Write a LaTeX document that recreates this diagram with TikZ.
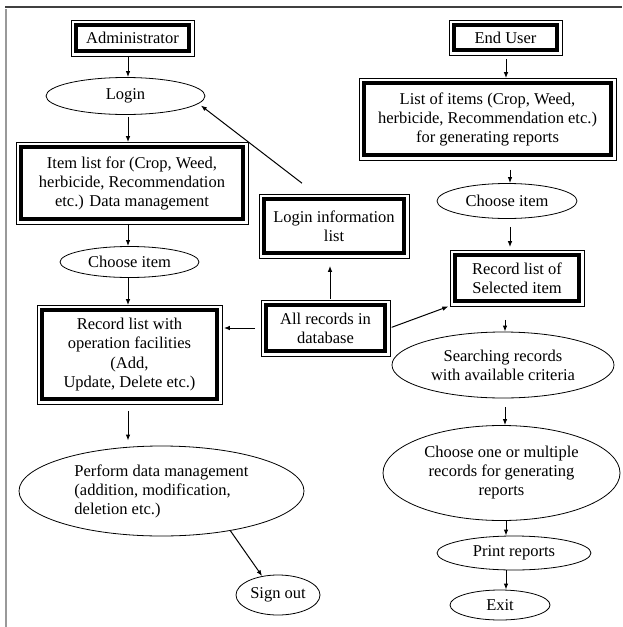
\documentclass[tikz,border=0pt]{standalone}
\usepackage{fontspec}
\setmainfont{Liberation Serif}
\usetikzlibrary{shapes.geometric,arrows.meta}
\begin{document}
\begin{tikzpicture}[x=1pt,y=-1pt,
  every node/.style={font=\fontsize{16.5pt}{19pt}\selectfont, inner sep=0pt, align=center},
  dbox/.style={draw, rectangle, line width=4.2pt, outer sep=4.8pt},
  ell/.style={draw, ellipse, line width=0.8pt},
  arr/.style={-{Latex[length=6pt,width=4.5pt]}, line width=1pt},
  thinframe/.style={line width=0.6pt}
]
\useasboundingbox (0,0) rectangle (622,627);
\draw[line width=1.5pt, black!75] (5,7) -- (622,7);
\draw[line width=2pt, black!40] (6,9) -- (6,627);

% left column
\node[dbox, minimum width=113, minimum height=26] (admin) at (132.5,38) {Administrator};
\node[ell, minimum width=159, minimum height=37] (login) at (125.5,96) {Login};
\node[dbox, minimum width=222, minimum height=72] (itemlist) at (132,183)
  {Item list for (Crop, Weed,\\herbicide, Recommendation\\etc.) Data management};
\node[ell, minimum width=139, minimum height=31] (choose1) at (129.5,262) {Choose item};
\node[dbox, minimum width=175, minimum height=89, font=\fontsize{16.5pt}{19.5pt}\selectfont] (reclist) at (129.5,354.5)
  {Record list with\\operation facilities\\(Add,\\Update, Delete etc.)};
\node[ell, minimum width=285, minimum height=90, align=left] (perform) at (161.5,491)
  {Perform data management\\(addition, modification,\\deletion etc.)};
\node[ell, minimum width=84, minimum height=40] (signout) at (278,595) {Sign out};

% middle
\node[dbox, minimum width=140, minimum height=54] (logininfo) at (334,226) {Login information\\list};
\node[dbox, minimum width=119, minimum height=46] (allrec) at (325.5,328) {All records in\\database};

% right column
\node[dbox, minimum width=103, minimum height=25] (enduser) at (505.5,37.5) {End User};
\node[dbox, minimum width=247, minimum height=72] (listitems) at (487.5,119)
  {List of items (Crop, Weed,\\herbicide, Recommendation etc.)\\for generating reports};
\node[ell, minimum width=140, minimum height=35] (choose2) at (507,201) {Choose item};
\node[dbox, minimum width=124, minimum height=46] (recsel) at (517,278) {Record list of\\Selected item};
\node[ell, minimum width=222, minimum height=66] (search) at (503,365) {Searching records\\with available criteria};
\node[ell, minimum width=237, minimum height=95] (chooseone) at (501.5,473)
  {Choose one or multiple\\records for generating\\reports};
\node[ell, minimum width=154, minimum height=34] (print) at (514,553) {Print reports};
\node[ell, minimum width=100, minimum height=30] (exit) at (500,605) {Exit};

% thin outer frames of the double boxes
\foreach \n in {admin,itemlist,reclist,logininfo,allrec,enduser,listitems,recsel}
  \draw[thinframe] (\n.north west) rectangle (\n.south east);

% helper x positions
\coordinate (xa) at (128,0);
\coordinate (xb) at (330,0);
\coordinate (xc) at (506,0);
\coordinate (xd) at (510,0);
\coordinate (xe) at (505,0);

% left connectors
\draw[arr] (admin.south -| xa) -- (login.north -| xa);
\draw[arr, shorten <=2pt] (login.south -| xa) -- (itemlist.north -| xa);
\draw[arr] (itemlist.south -| xa) -- (choose1.north -| xa);
\draw[arr] (choose1.south -| xa) -- (reclist.north -| xa);
\draw[arr, shorten <=6pt, shorten >=2pt] (allrec.west) -- (reclist.east |- allrec.west);
\draw[arr, shorten <=7pt, shorten >=5pt] (reclist.south -| xa) -- (perform.north -| xa);
\draw[arr] (perform.-30) -- (signout.130);

% middle connectors
\draw[arr, shorten >=3pt] ([shift={(-32pt,11pt)}]logininfo.north) -- (login.-6);
\draw[arr, shorten <=1pt, shorten >=8pt] (allrec.north -| xb) -- (logininfo.south -| xb);
\draw[arr, shorten <=2pt, shorten >=2pt] (allrec.east) -- (recsel.south west);

% right connectors
\draw[arr, shorten <=4pt] (enduser.south -| xc) -- (listitems.north -| xc);
\draw[arr, shorten <=10pt] (listitems.south -| xd) -- (choose2.north -| xd);
\draw[arr, shorten <=8pt, shorten >=3pt] (choose2.south -| xd) -- (recsel.north -| xd);
\draw[arr, shorten <=14pt] (recsel.south -| xe) -- (search.north -| xe);
\draw[arr, shorten <=9pt] (search.south -| xe) -- (chooseone.north -| xe);
\draw[arr] (chooseone.south -| xc) -- (print.north -| xc);
\draw[arr] (print.south -| xc) -- (exit.north -| xc);
\end{tikzpicture}
\end{document}
